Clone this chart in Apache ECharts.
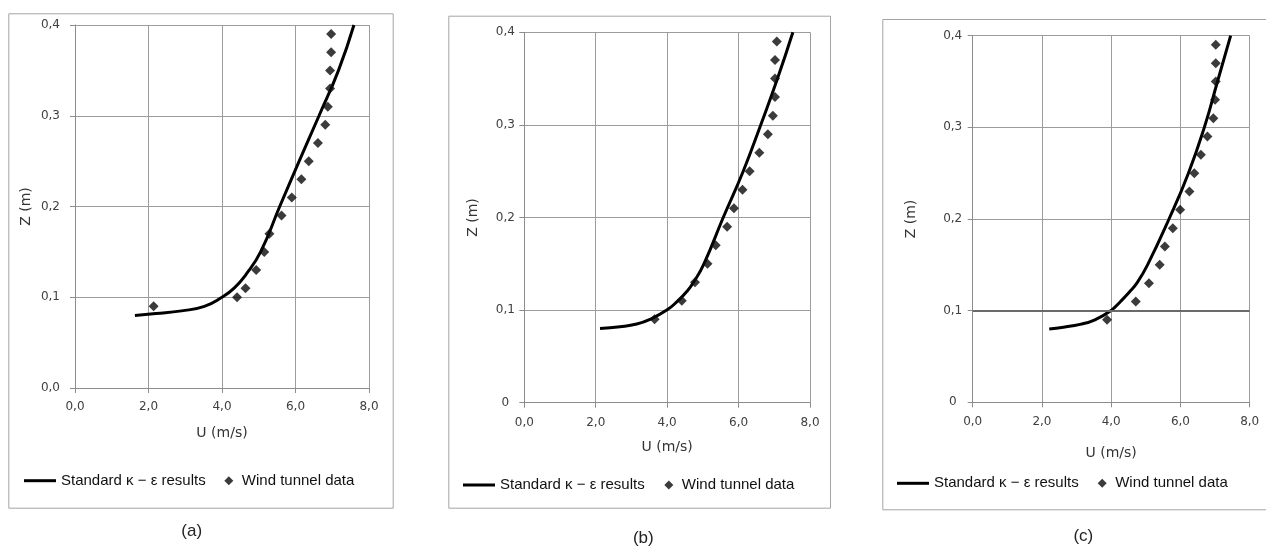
<!DOCTYPE html>
<html>
<head>
<meta charset="utf-8">
<script src="https://cdn.jsdelivr.net/npm/echarts@6/dist/echarts.min.js"></script>
<style>
  html, body { margin: 0; padding: 0; background: #ffffff; }
  #chart { width: 1266px; height: 547px; }
</style>
</head>
<body>
<div id="chart"></div>
<script>
// ---------- tick labels ----------
const xTickLabels = ['0,0', '2,0', '4,0', '6,0', '8,0'];
const yTickLabelsA = ['0,0', '0,1', '0,2', '0,3', '0,4'];
const yTickLabelsBC = ['0', '0,1', '0,2', '0,3', '0,4'];
const panelLabels = ['(a)', '(b)', '(c)'];
const lineName = 'Standard \u03ba \u2212 \u03b5 results';
const scatterName = 'Wind tunnel data';

// ---------- wind tunnel data (U in m/s, Z in m) ----------
const windZ_A = [0.09, 0.10, 0.11, 0.13, 0.15, 0.17, 0.19, 0.21, 0.23, 0.25, 0.27, 0.29, 0.31, 0.33, 0.35, 0.37, 0.39];
const windU_A = [2.14, 4.41, 4.64, 4.93, 5.15, 5.29, 5.62, 5.90, 6.16, 6.36, 6.61, 6.81, 6.88, 6.94, 6.94, 6.97, 6.97];

const windZ_BC = [0.09, 0.11, 0.13, 0.15, 0.17, 0.19, 0.21, 0.23, 0.25, 0.27, 0.29, 0.31, 0.33, 0.35, 0.37, 0.39];
const windU_B = [3.65, 4.41, 4.78, 5.13, 5.36, 5.68, 5.87, 6.11, 6.31, 6.58, 6.82, 6.96, 7.02, 7.02, 7.02, 7.07];
const windU_C = [3.88, 4.71, 5.09, 5.40, 5.55, 5.78, 5.99, 6.26, 6.40, 6.59, 6.78, 6.95, 7.00, 7.02, 7.02, 7.02];

// ---------- standard k-epsilon results ----------
const modelZ_A = [0.080, 0.082, 0.085, 0.090, 0.100, 0.110, 0.125, 0.150, 0.200, 0.250, 0.300, 0.350, 0.400];
const modelU_A = [1.63, 2.20, 2.90, 3.52, 4.00, 4.33, 4.65, 5.05, 5.57, 6.10, 6.64, 7.17, 7.59];
const modelZ_BC = [0.080, 0.082, 0.085, 0.090, 0.100, 0.110, 0.120, 0.130, 0.150, 0.200, 0.250, 0.300, 0.350, 0.400];
const modelU_B = [2.12, 2.68, 3.15, 3.52, 3.99, 4.30, 4.55, 4.74, 5.03, 5.57, 6.13, 6.62, 7.09, 7.52];
const modelU_C = [2.21, 2.62, 3.10, 3.53, 3.99, 4.27, 4.52, 4.74, 5.05, 5.67, 6.23, 6.69, 7.07, 7.45];

const pairs = (us, zs) => us.map((u, i) => [u, zs[i]]);

const chart = echarts.init(document.getElementById('chart'), null, { renderer: 'canvas' });

const grids = [
  { left: 75, top: 25, width: 294, height: 363 },
  { left: 524.3, top: 32.3, width: 285.7, height: 370.4 },
  { left: 972.7, top: 35.7, width: 277, height: 366.6 }
].map(g => Object.assign({ containLabel: false, outerBoundsMode: 'none' }, g));

const axisGray = '#8c8c8c';
const gridGray = '#9c9c9c';
const tickFont = { fontFamily: 'DejaVu Sans', fontSize: 12, color: '#404040' };
const nameFont = { fontFamily: 'DejaVu Sans', fontSize: 14, color: '#333333' };

const yCfg = [
  { labels: yTickLabelsA, align: 'right', margin: 15, nameGap: 42 },
  { labels: yTickLabelsBC, align: 'center', margin: 19, nameGap: 44 },
  { labels: yTickLabelsBC, align: 'center', margin: 20, nameGap: 54 }
];
const xCfg = [
  { margin: 13, nameGap: 38 },
  { margin: 14, nameGap: 38 },
  { margin: 14, nameGap: 44 }
];

const xAxes = xCfg.map((c, i) => ({
  type: 'value', gridIndex: i, min: 0, max: 8, interval: 2,
  axisLine: { show: true, lineStyle: { color: axisGray, width: 1 } },
  axisTick: { show: true, length: 5, lineStyle: { color: axisGray } },
  splitLine: { show: true, lineStyle: { color: gridGray, width: 1 } },
  axisLabel: Object.assign({ margin: c.margin, formatter: v => xTickLabels[Math.round(v / 2)] }, tickFont),
  name: 'U (m/s)', nameLocation: 'middle', nameGap: c.nameGap, nameTextStyle: nameFont
}));

const yAxes = yCfg.map((c, i) => ({
  type: 'value', gridIndex: i, min: 0, max: 0.4, interval: 0.1,
  axisLine: { show: true, lineStyle: { color: axisGray, width: 1 } },
  axisTick: { show: true, length: 5, lineStyle: { color: axisGray } },
  splitLine: { show: true, lineStyle: { color: gridGray, width: 1 } },
  axisLabel: Object.assign({ margin: c.margin, align: c.align, formatter: v => c.labels[Math.round(v / 0.1)] }, tickFont),
  name: 'Z (m)', nameLocation: 'middle', nameGap: c.nameGap, nameTextStyle: nameFont
}));

const lineData = [pairs(modelU_A, modelZ_A), pairs(modelU_B, modelZ_BC), pairs(modelU_C, modelZ_BC)];
const scatData = [pairs(windU_A, windZ_A), pairs(windU_B, windZ_BC), pairs(windU_C, windZ_BC)];

const series = [];
for (let i = 0; i < 3; i++) {
  series.push({
    name: lineName, type: 'line', xAxisIndex: i, yAxisIndex: i,
    data: lineData[i], smooth: 0.5, showSymbol: false, symbol: 'none',
    lineStyle: { color: '#000000', width: 3 }, itemStyle: { color: '#000000' },
    z: 3, silent: true
  });
  const s = {
    name: scatterName, type: 'scatter', xAxisIndex: i, yAxisIndex: i,
    data: scatData[i], symbol: 'diamond', symbolSize: 10,
    itemStyle: { color: '#0a0a0a' }, z: 4, silent: true
  };
  if (i === 2) {
    s.markLine = {
      silent: true, symbol: 'none', label: { show: false },
      lineStyle: { color: '#6a6a6a', width: 2, type: 'solid' },
      data: [{ yAxis: 0.1 }]
    };
  }
  series.push(s);
}

const legendText = { fontFamily: 'Liberation Sans', fontSize: 15, color: '#111111', lineHeight: 16 };
const diamondIcon = 'path://M5,0 L10,5 L5,10 L0,5 Z';
const legendPos = [
  { lineLeft: 24, diaLeft: 224.3, top: 472.7 },
  { lineLeft: 463, diaLeft: 664.3, top: 477 },
  { lineLeft: 897, diaLeft: 1097.7, top: 475.3 }
];
const legends = [];
legendPos.forEach(p => {
  legends.push({
    left: p.lineLeft, top: p.top, padding: 0, itemGap: 0,
    itemWidth: 32, itemHeight: 3, selectedMode: false,
    data: [{ name: lineName, icon: 'rect' }], textStyle: legendText
  });
  legends.push({
    left: p.diaLeft, top: p.top, padding: 0, itemGap: 0,
    itemWidth: 16, itemHeight: 9, selectedMode: false, symbolKeepAspect: true,
    data: [{ name: scatterName, icon: diamondIcon }], textStyle: legendText
  });
});

const titlePos = [
  { left: 191.7, top: 522 },
  { left: 643.3, top: 529 },
  { left: 1083.3, top: 527 }
];
const titles = titlePos.map((p, i) => ({
  text: panelLabels[i], left: p.left, top: p.top, textAlign: 'center', padding: 0,
  textStyle: { fontFamily: 'Liberation Sans', fontSize: 17, fontWeight: 'normal', color: '#222222', lineHeight: 19 }
}));

const frames = [
  { x: 8.3, y: 13.3, w: 384.4, h: 494.4 },
  { x: 448.3, y: 15.7, w: 381.7, h: 492 },
  { x: 882.3, y: 19, w: 400, h: 490.3 }
];

chart.setOption({
  backgroundColor: '#ffffff',
  animation: false,
  title: titles,
  legend: legends,
  grid: grids,
  xAxis: xAxes,
  yAxis: yAxes,
  series: series,
  graphic: frames.map(f => ({
    type: 'rect', silent: true, z: -10,
    shape: { x: f.x + 0.5, y: f.y + 0.5, width: f.w, height: f.h },
    style: { fill: 'none', stroke: '#a4a4a4', lineWidth: 1 }
  }))
});
</script>
</body>
</html>
